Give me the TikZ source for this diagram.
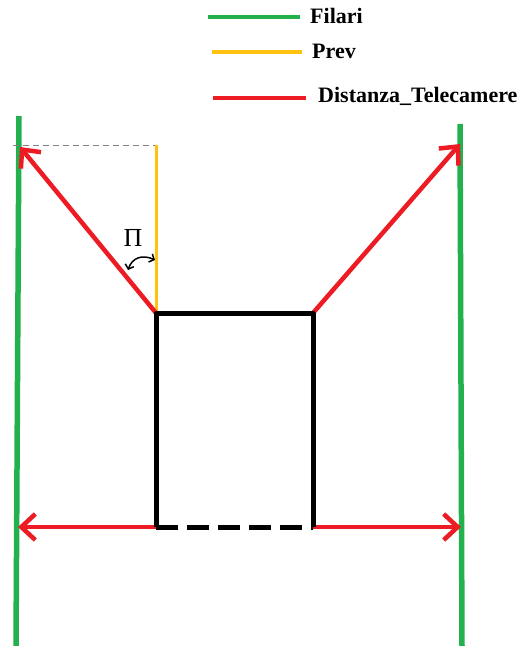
\documentclass[tikz,border=0pt]{standalone}
\usepackage{fontspec}
\setmainfont{Liberation Serif}
\usetikzlibrary{arrows.meta}
\definecolor{gr}{RGB}{34,177,76}
\definecolor{yl}{RGB}{255,194,14}
\definecolor{rd}{RGB}{237,28,36}
\tikzset{
  filari/.style={draw=gr,line width=5.5pt},
  prev/.style={draw=yl,line width=3pt},
  dist/.style={draw=rd,line width=4.5pt},
  distarrow/.style={dist,-{Straight Barb[length=14pt,width=26pt,line width=4.5pt]}},
  box/.style={draw=black,line width=5pt},
  legtext/.style={font=\fontsize{22}{26}\selectfont\bfseries,anchor=west,inner sep=0pt},
}
\begin{document}
\begin{tikzpicture}[x=1pt,y=-1pt]
\useasboundingbox (0,0) rectangle (526,646);
% legend
\coordinate (g1) at (208,17); \coordinate (g2) at (300,17);
\coordinate (y1) at (212,52); \coordinate (y2) at (302,52);
\coordinate (r1) at (213,98); \coordinate (r2) at (306,98);
\draw[filari,line width=3.5pt] (g1) -- (g2);
\draw[prev,line width=3.5pt] (y1) -- (y2);
\draw[dist,line width=3.5pt] (r1) -- (r2);
\node[legtext] (tf) at (310,16) {Filari};
\node[legtext] (tp) at (312,51) {Prev};
\node[legtext] (td) at (318,96) {Distanza\_Telecamere};
% green wires
\coordinate (la) at (19,116); \coordinate (lb) at (16,646);
\coordinate (ra) at (460,124); \coordinate (rb) at (462,646);
\draw[filari] (la) -- (lb);
\draw[filari] (ra) -- (rb);
% box corners
\coordinate (tl) at (156,313); \coordinate (tr) at (313,313);
\coordinate (bl) at (156,527); \coordinate (br) at (313,527);
% dashed grey and yellow
\coordinate (dg1) at (13,145); \coordinate (dg2) at (156,145);
\draw[gray,line width=1pt,dash pattern=on 6pt off 4pt] (dg1) -- (dg2);
\draw[prev] (dg2) -- (tl);
% red arrows
\coordinate (t1) at (20,147); \coordinate (t2) at (460,144);
\coordinate (t3) at (18,527); \coordinate (t4) at (461,527);
\draw[distarrow] (tl) -- (t1);
\draw[distarrow] (tr) -- (t2);
\draw[distarrow] (bl) -- (t3);
\draw[distarrow] (br) -- (t4);
% box
\draw[box,line join=round] (bl) -- (tl) -- (tr) -- (br);
\draw[box,dash pattern=on 22pt off 9pt] (bl) -- (br);
% angle
\node[font=\fontsize{26}{30}\selectfont,inner sep=0pt] (pi) at (133,238) {Π};
\coordinate (c1) at (128,270); \coordinate (c2) at (155,260);
\draw[line width=1.5pt,{Straight Barb[length=4pt,width=9pt]}-{Straight Barb[length=4pt,width=9pt]}] (c1) .. controls (132,258) and (142,254) .. (c2);
\end{tikzpicture}
\end{document}
